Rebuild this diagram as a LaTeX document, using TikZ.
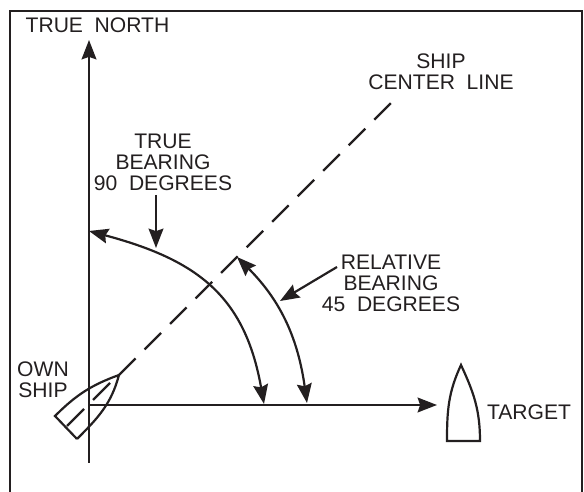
\documentclass[tikz,border=0pt]{standalone}
\usepackage{fontspec}
\setmainfont{Liberation Sans}
\usetikzlibrary{arrows.meta}
\definecolor{inkline}{HTML}{231F20}
\tikzset{
	labeltext/.style={align=center,inner sep=0pt,text=inkline,font=\fontsize{12}{11.9}\selectfont},
	bearingline/.style={line width=1.25pt,draw=inkline},
	tipped/.style={-{Stealth[length=11pt,width=8.4pt,inset=1.4pt]}},
	bothtipped/.style={{Stealth[length=11pt,width=8.4pt,inset=1.4pt]}-{Stealth[length=11pt,width=8.4pt,inset=1.4pt]}}
}
\begin{document}
\begin{tikzpicture}
	\useasboundingbox (0,0) rectangle (11.68,9.84);
	\draw[bearingline] (0.2,0) -- (0.2,9.62) -- (11.64,9.62) -- (11.64,0);
	\coordinate (origin) at (1.78,1.74);
	\coordinate (northfoot) at (1.78,0.58);
	\coordinate (northtip) at (1.78,9.04);
	\coordinate (targettip) at (8.74,1.74);
	\coordinate (bow) at (2.38,2.34);
	\coordinate (lineend) at (7.82,7.78);
	\coordinate (sternport) at (1.10,1.52);
	\coordinate (sternstar) at (1.54,1.06);
	\coordinate (trueend) at (1.78,5.22);
	\coordinate (truestart) at (5.28,1.76);
	\coordinate (relend) at (4.74,4.70);
	\coordinate (relstart) at (6.14,1.78);
	\coordinate (truefrom) at (3.12,5.94);
	\coordinate (trueto) at (3.12,4.88);
	\coordinate (relfrom) at (6.74,4.50);
	\coordinate (relto) at (5.60,3.82);
	\coordinate (keela) at (1.34,1.32);
	\coordinate (keelb) at (1.68,1.66);
	\coordinate (keelc) at (1.86,1.84);
	\coordinate (keeld) at (2.20,2.18);
	\coordinate (targetbow) at (9.22,2.54);
	\coordinate (targetleft) at (8.94,1.02);
	\coordinate (targetright) at (9.60,1.02);
	\draw[bearingline,tipped] (northfoot) -- (northtip);
	\draw[bearingline,tipped] (origin) -- (targettip);
	\draw[bearingline,dash pattern=on 0.468cm off 0.254cm] (bow) -- (lineend);
	\draw[bearingline] (sternstar) -- (sternport) to[out=45,in=200] (bow) to[out=255,in=45] (sternstar);
	\draw[bearingline] (keela) -- (keelb);
	\draw[bearingline] (keelc) -- (keeld);
	\draw[bearingline,bothtipped] (trueend) to[out=-15,in=100,looseness=1.15] (truestart);
	\draw[bearingline,bothtipped] (relend) to[out=-45,in=98] (relstart);
	\draw[bearingline,tipped] (truefrom) -- (trueto);
	\draw[bearingline,tipped] (relfrom) -- (relto);
	\draw[bearingline] (targetleft) to[out=90,in=245] (targetbow) to[out=-65,in=90] (targetright) -- cycle;
	\node[labeltext] (northlabel) at (1.95,9.34) {TRUE\ \ NORTH};
	\node[labeltext] (centerlabel) at (8.82,8.40) {SHIP\\CENTER\ \ LINE};
	\node[labeltext] (truelabel) at (3.26,6.60) {TRUE\\BEARING\\90\ \ DEGREES};
	\node[labeltext] (rellabel) at (7.82,4.18) {RELATIVE\\BEARING\\45\ \ DEGREES};
	\node[labeltext] (ownlabel) at (0.86,2.25) {OWN\\SHIP};
	\node[labeltext] (targetlabel) at (10.58,1.60) {TARGET};
\end{tikzpicture}
\end{document}
